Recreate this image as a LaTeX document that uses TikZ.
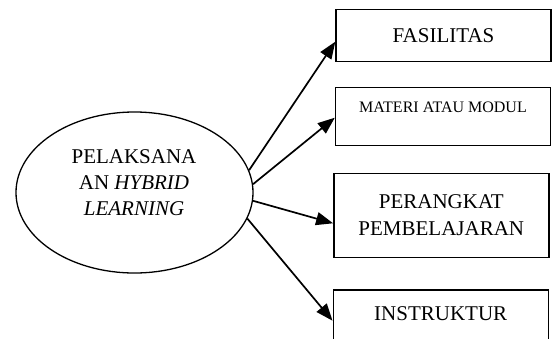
\documentclass[tikz,border=0pt]{standalone}
\usepackage{fontspec}
\setmainfont{Liberation Serif}
\usetikzlibrary{shapes.geometric,arrows.meta}

\tikzset{
  kotak/.style={draw, line width=1.4pt, inner sep=0pt, align=center,
    minimum width=215pt, font=\fontsize{21}{27}\selectfont},
  oval/.style={draw, ellipse, line width=1.3pt, inner sep=0pt,
    minimum width=237pt, minimum height=161pt},
  judul/.style={align=center, font=\fontsize{21}{26}\selectfont},
  panah/.style={line width=1.7pt, -{Triangle[length=17pt,width=13pt]}}
}

\begin{document}
\begin{tikzpicture}[x=1pt,y=-1pt]
\useasboundingbox (0,0) rectangle (552,338);

% pusat
\node[oval] (pel) at (134.5,192.5) {};
\node[judul] (peltext) at (134,183) {PELAKSANA\\AN \textit{HYBRID}\\\textit{LEARNING}};

% kotak kanan
\node[kotak, minimum height=52pt] (fas) at (443.5,35.2) {FASILITAS};
\node[kotak, minimum height=58pt, font=\fontsize{16}{19}\selectfont] (mat) at (443,116.7) {MATERI ATAU MODUL\\ ~};
\node[kotak, minimum height=84pt] (per) at (441.3,215.3) {PERANGKAT\\PEMBELAJARAN};
\node[kotak, minimum height=73pt, font=\fontsize{21}{26}\selectfont] (ins) at (440.7,326.3) {INSTRUKTUR\\ ~};

% panah
\draw[panah] (pel.11.9) -- ([yshift=-6.5pt]fas.west);
\draw[panah] (pel.4.4) -- ([yshift=-1pt]mat.west);
\draw[panah] (pel.-4.1) -- ([yshift=-8pt]per.west);
\draw[panah] (pel.-13.6) -- ([yshift=5.6pt]ins.west);

\end{tikzpicture}
\end{document}
